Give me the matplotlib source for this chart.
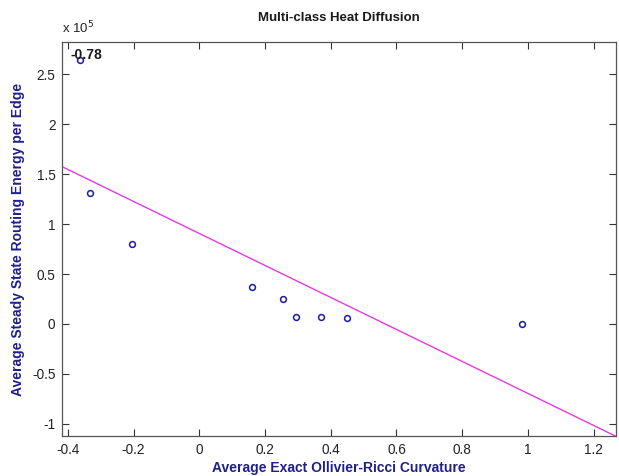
import numpy as np
import matplotlib
matplotlib.use('Agg')
import matplotlib.pyplot as plt

plt.rcParams['font.family'] = ['Liberation Sans', 'DejaVu Sans']

# curvature vs routing energy (energy in units of 1e5)
curvature = [-0.363, -0.331, -0.2035, 0.160, 0.256, 0.294, 0.370, 0.448, 0.981]
energy = [2.646, 1.316, 0.799, 0.368, 0.248, 0.070, 0.070, 0.057, 0.003]
corr_label = '-0.78'

xticks = [-0.4, -0.2, 0, 0.2, 0.4, 0.6, 0.8, 1, 1.2]
xticklabels = ['-0.4', '-0.2', '0', '0.2', '0.4', '0.6', '0.8', '1', '1.2']
yticks = [-1, -0.5, 0, 0.5, 1, 1.5, 2, 2.5]
yticklabels = ['-1', '-0.5', '0', '0.5', '1', '1.5', '2', '2.5']

xlo, xhi = -0.4165, 1.268
ylo, yhi = -1.123, 2.826

fig = plt.figure(figsize=(6.19, 4.76), dpi=100)
ax = fig.add_axes([0.1007, 0.084, 0.8946, 0.828])

# least squares fit line across the full axis
k, b = np.polyfit(curvature, energy, 1)
xs = np.array([xlo, xhi])
ax.plot(xs, k * xs + b, color='#e23be2', lw=1)

ax.plot(curvature, energy, 'o', mfc='none', mec='#1a1aa8', ms=4.2, mew=1.1)

ax.text(-0.392, 2.69, corr_label, fontsize=10, fontweight='bold', va='center', ha='left', color='#1a1a1a')

ax.set_xlim(xlo, xhi)
ax.set_ylim(ylo, yhi)
ax.set_xticks(xticks)
ax.set_xticklabels(xticklabels)
ax.set_yticks(yticks)
ax.set_yticklabels(yticklabels)
ax.tick_params(direction='in', top=True, right=True, length=5, width=0.8,
               labelsize=9.8, colors='#333333', labelcolor='#222222', pad=5)
for s in ax.spines.values():
    s.set_color('#555555')
    s.set_linewidth(0.9)

ax.text(0, 1.015, r'x 10$^5$', transform=ax.transAxes, fontsize=9.5, color='#222222',
        ha='left', va='bottom')

ax.set_title('Multi-class Heat Diffusion', fontsize=9.5, fontweight='bold', color='#1a1a1a', pad=15)
ax.set_xlabel('Average Exact Ollivier-Ricci Curvature', fontsize=10, fontweight='bold',
              color='#1f1f8c', labelpad=3)
ax.set_ylabel('Average Steady State Routing Energy per Edge', fontsize=10, fontweight='bold',
              color='#1f1f8c', labelpad=5)

fig.savefig('out.png', dpi=100)
